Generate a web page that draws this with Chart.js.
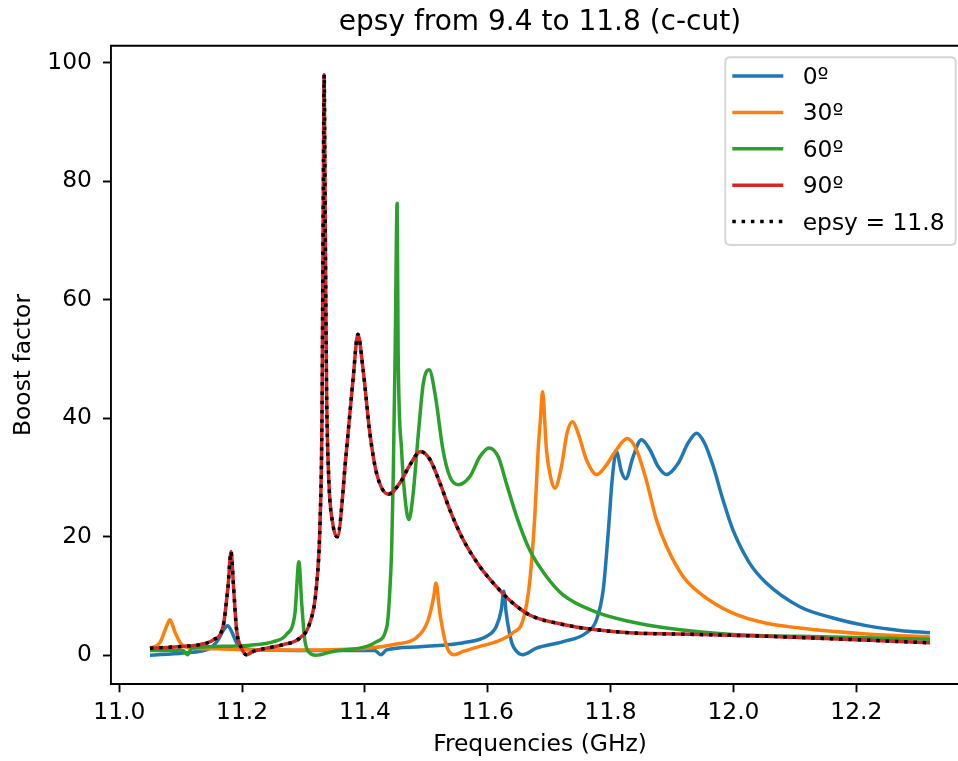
<!DOCTYPE html>
<html>
<head>
<meta charset="utf-8">
<title>epsy from 9.4 to 11.8 (c-cut)</title>
<script src="https://cdn.jsdelivr.net/npm/chart.js@4/dist/chart.umd.min.js"></script>
<style>
  html, body { margin: 0; padding: 0; background: #ffffff; overflow: hidden; }
  #wrap { width: 958px; height: 761px; overflow: hidden; position: relative; }
  canvas { display: block; }
</style>
</head>
<body>
<div id="wrap"><canvas id="boost" width="980" height="761"></canvas></div>
<script>
// Boost factor vs frequency for four orientations and the epsy = 11.8 reference.

const seriesLabels = ['0º', '30º', '60º', '90º', 'epsy = 11.8'];
const xTicks = [11.0, 11.2, 11.4, 11.6, 11.8, 12.0, 12.2];
const yTicks = [0, 20, 40, 60, 80, 100];

// 0º
const freq0 = [11.050, 11.104, 11.148, 11.161, 11.170, 11.1764, 11.183, 11.191, 11.202, 11.240,
  11.294, 11.348, 11.416, 11.426, 11.435, 11.484, 11.538, 11.560, 11.598, 11.614,
  11.622, 11.626, 11.630, 11.639, 11.647, 11.6565, 11.679, 11.7225, 11.7606, 11.777,
  11.788, 11.796, 11.803, 11.8094, 11.8176, 11.8246, 11.8365, 11.850, 11.864, 11.877,
  11.891, 11.910, 11.926, 11.940, 11.953, 11.967, 11.983, 11.999, 12.026, 12.0535,
  12.108, 12.162, 12.216, 12.2705, 12.320];
const boost0 = [0.0, 0.4, 1.2, 2.6, 4.3, 5.0, 4.0, 2.1, 1.2, 0.9,
  0.8, 0.8, 0.8, 0.1, 0.9, 1.4, 1.8, 2.1, 3.2, 4.9,
  7.7, 10.8, 7.1, 2.1, 0.65, 0.1, 1.2, 2.3, 3.8, 6.0,
  11.1, 20.6, 30.2, 34.4, 31.0, 29.8, 33.5, 36.4, 34.7, 31.9,
  30.5, 32.4, 35.8, 37.5, 35.8, 31.9, 26.2, 21.2, 15.6, 12.2,
  8.2, 6.3, 5.0, 4.2, 3.8];

// 30º
const freq30 = [11.050, 11.066, 11.077, 11.0825, 11.091, 11.1015, 11.120, 11.1585, 11.213, 11.294,
  11.403, 11.451, 11.484, 11.503, 11.512, 11.5157, 11.522, 11.533, 11.545, 11.560,
  11.587, 11.614, 11.641, 11.6575, 11.668, 11.6765, 11.682, 11.686, 11.689, 11.6955,
  11.702, 11.709, 11.720, 11.729, 11.738, 11.747, 11.7606, 11.777, 11.793, 11.8094,
  11.827, 11.842, 11.858, 11.8745, 11.891, 11.918, 11.945, 11.999, 12.0535, 12.108,
  12.216, 12.320];
const boost30 = [1.2, 2.1, 4.9, 6.0, 3.8, 1.8, 1.2, 1.1, 0.9, 0.9,
  1.2, 1.9, 3.0, 6.0, 9.9, 12.2, 7.1, 1.5, 0.1, 0.65,
  1.5, 2.3, 3.8, 6.0, 12.2, 23.4, 34.7, 40.3, 44.5, 34.7,
  30.2, 28.2, 31.9, 37.5, 39.4, 37.5, 33.0, 30.5, 32.1, 34.7,
  36.6, 34.7, 29.6, 22.9, 18.4, 13.3, 10.5, 7.1, 5.4, 4.6,
  3.6, 3.1];

// 60º
const freq60 = [11.050, 11.104, 11.111, 11.118, 11.1585, 11.213, 11.251, 11.272, 11.286, 11.2924,
  11.297, 11.302, 11.310, 11.320, 11.348, 11.403, 11.419, 11.436, 11.440, 11.4435,
  11.446, 11.4492, 11.4524, 11.454, 11.4596, 11.465, 11.4714, 11.478, 11.487, 11.495,
  11.5045, 11.514, 11.527, 11.538, 11.552, 11.571, 11.587, 11.602, 11.617, 11.630,
  11.647, 11.668, 11.6955, 11.7225, 11.779, 11.831, 11.891, 11.999, 12.108, 12.320];
const boost60 = [0.8, 0.8, 0.1, 1.2, 1.5, 1.7, 2.3, 3.5, 7.1, 15.8,
  8.8, 2.6, 0.4, 0.0, 0.65, 1.5, 2.3, 5.0, 10.0, 18.0,
  30.0, 51.5, 76.3, 51.5, 34.7, 26.8, 22.9, 26.8, 37.5, 45.9,
  48.2, 44.2, 34.7, 30.2, 28.8, 30.2, 33.5, 35.0, 33.5, 29.1,
  23.4, 17.8, 13.3, 10.2, 7.2, 5.7, 4.6, 3.5, 3.2, 2.7];

// 90º (the epsy = 11.8 reference coincides with it)
const freq90 = [11.050, 11.104, 11.131, 11.153, 11.169, 11.177, 11.182, 11.186, 11.191, 11.199,
  11.207, 11.218, 11.240, 11.267, 11.294, 11.310, 11.321, 11.327, 11.330, 11.332,
  11.3336, 11.3352, 11.3375, 11.341, 11.348, 11.3548, 11.370, 11.381, 11.3885, 11.397,
  11.408, 11.419, 11.438, 11.457, 11.473, 11.4905, 11.506, 11.522, 11.538, 11.560,
  11.587, 11.614, 11.641, 11.668, 11.7225, 11.777, 11.831, 11.945, 12.054, 12.320];
const boost90 = [1.2, 1.5, 1.8, 2.6, 4.9, 11.6, 17.5, 11.6, 4.3, 1.2,
  0.1, 0.65, 1.2, 1.8, 2.9, 5.4, 11.6, 22.9, 40.0, 75.0,
  98.0, 75.0, 45.0, 30.0, 22.0, 20.0, 34.7, 47.0, 54.2, 48.2,
  37.5, 30.7, 27.2, 29.1, 32.1, 34.4, 33.0, 29.1, 24.6, 19.5,
  15.0, 11.6, 8.8, 6.8, 5.2, 4.3, 3.8, 3.5, 3.2, 2.1];

const freqEpsy = freq90;
const boostEpsy = boost90;

const FONT = "'DejaVu Sans', 'Liberation Sans', sans-serif";
const TEXT = '#000000';

function points(fs, vs) {
  return fs.map((f, i) => ({ x: f, y: vs[i] }));
}

const lineStyle = {
  pointRadius: 0,
  pointHoverRadius: 0,
  borderWidth: 3.5,
  fill: false,
  cubicInterpolationMode: 'monotone',
  borderJoinStyle: 'round',
  borderCapStyle: 'butt'
};

const datasets = [
  { ...lineStyle, label: seriesLabels[0], data: points(freq0, boost0), borderColor: '#1f77b4', order: 4 },
  { ...lineStyle, label: seriesLabels[1], data: points(freq30, boost30), borderColor: '#ff7f0e', order: 3 },
  { ...lineStyle, label: seriesLabels[2], data: points(freq60, boost60), borderColor: '#2ca02c', order: 2 },
  { ...lineStyle, label: seriesLabels[3], data: points(freq90, boost90), borderColor: '#d62728', order: 1 },
  { ...lineStyle, label: seriesLabels[4], data: points(freqEpsy, boostEpsy), borderColor: '#000000',
    borderDash: [3.5, 5.8], order: 0 }
];

// top and right spines of the axes box
const framePlugin = {
  id: 'frame',
  afterDatasetsDraw(chart) {
    const { ctx, chartArea: a } = chart;
    ctx.save();
    ctx.strokeStyle = '#000000';
    ctx.lineWidth = 1.9;
    ctx.beginPath();
    ctx.moveTo(a.left - 0.95, a.top);
    ctx.lineTo(a.right, a.top);
    ctx.lineTo(a.right, a.bottom + 0.95);
    ctx.stroke();
    ctx.restore();
  }
};

// legend box in the upper-right corner of the axes
const legendPlugin = {
  id: 'cornerLegend',
  afterDraw(chart) {
    const { ctx, chartArea: a } = chart;
    const w = 230.4, h = 187.7;
    const right = a.right - 13.3, top = a.top + 11.6;
    const left = right - w;
    const r = 5;
    ctx.save();
    ctx.beginPath();
    ctx.moveTo(left + r, top);
    ctx.lineTo(right - r, top);
    ctx.quadraticCurveTo(right, top, right, top + r);
    ctx.lineTo(right, top + h - r);
    ctx.quadraticCurveTo(right, top + h, right - r, top + h);
    ctx.lineTo(left + r, top + h);
    ctx.quadraticCurveTo(left, top + h, left, top + h - r);
    ctx.lineTo(left, top + r);
    ctx.quadraticCurveTo(left, top, left + r, top);
    ctx.closePath();
    ctx.fillStyle = 'rgba(255,255,255,0.8)';
    ctx.fill();
    ctx.strokeStyle = 'rgba(204,204,204,0.8)';
    ctx.lineWidth = 1.9;
    ctx.stroke();

    ctx.font = '23.4px ' + FONT;
    ctx.textBaseline = 'middle';
    ctx.textAlign = 'left';
    chart.data.datasets.forEach((ds, i) => {
      const y = top + 18.7 + i * 36.4;
      ctx.beginPath();
      ctx.strokeStyle = ds.borderColor;
      ctx.lineWidth = ds.borderWidth;
      ctx.lineCap = 'butt';
      ctx.setLineDash(ds.borderDash || []);
      ctx.moveTo(left + 7, y);
      ctx.lineTo(left + 58, y);
      ctx.stroke();
      ctx.setLineDash([]);
      ctx.fillStyle = TEXT;
      ctx.fillText(ds.label, left + 77.4, y + 2);
    });
    ctx.restore();
  }
};

const axisGrid = {
  drawOnChartArea: false,
  drawTicks: true,
  tickLength: 8,
  tickWidth: 1.9,
  tickColor: '#000000'
};
const axisBorder = { display: true, color: '#000000', width: 1.9 };

new Chart(document.getElementById('boost'), {
  type: 'line',
  data: { datasets },
  options: {
    responsive: false,
    animation: false,
    devicePixelRatio: 1,
    parsing: true,
    layout: { padding: { left: 0, right: 11, top: 0, bottom: 0 } },
    plugins: {
      legend: { display: false },
      tooltip: { enabled: false },
      title: {
        display: true,
        text: 'epsy from 9.4 to 11.8 (c-cut)',
        fullSize: false,
        color: TEXT,
        font: { family: FONT, size: 28, weight: 'normal' },
        padding: { top: 6, bottom: 6.1 }
      }
    },
    scales: {
      x: {
        type: 'linear',
        min: 10.9865,
        max: 12.3835,
        afterBuildTicks: (s) => { s.ticks = xTicks.map(v => ({ value: v })); },
        afterFit: (s) => { s.height = 76.7; },
        ticks: {
          callback: (v) => Number(v).toFixed(1),
          color: TEXT,
          font: { family: FONT, size: 23.4 },
          padding: 6.2,
          maxRotation: 0,
          autoSkip: false
        },
        grid: axisGrid,
        border: axisBorder,
        title: {
          display: true,
          text: 'Frequencies (GHz)',
          color: TEXT,
          font: { family: FONT, size: 23.4 },
          padding: { top: 0, bottom: 2.5 }
        }
      },
      y: {
        type: 'linear',
        min: -4.9,
        max: 102.9,
        afterBuildTicks: (s) => { s.ticks = yTicks.map(v => ({ value: v })); },
        afterFit: (s) => { s.width = 111; },
        ticks: {
          callback: (v) => String(Math.round(v)),
          color: TEXT,
          font: { family: FONT, size: 23.4 },
          padding: 11,
          autoSkip: false
        },
        grid: axisGrid,
        border: axisBorder,
        title: {
          display: true,
          text: 'Boost factor',
          color: TEXT,
          font: { family: FONT, size: 23.4 },
          padding: { top: 10, bottom: 0 }
        }
      }
    }
  },
  plugins: [framePlugin, legendPlugin]
});
</script>
</body>
</html>
